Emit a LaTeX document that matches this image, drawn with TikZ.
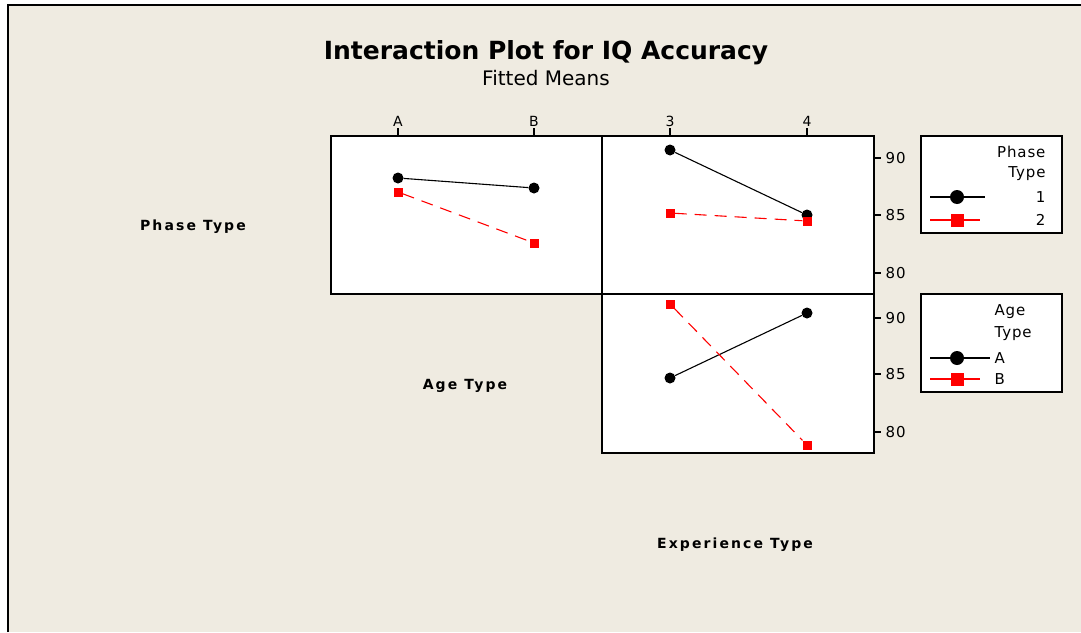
\documentclass[tikz,border=0pt]{standalone}
\usepackage{fontspec}
\setmainfont{DejaVu Sans}
\newfontfamily\axisfont[LetterSpace=15]{DejaVu Sans}
\newfontfamily\legfont[LetterSpace=6]{DejaVu Sans}
\definecolor{minibg}{RGB}{239,235,225}
\begin{document}
\begin{tikzpicture}[x=1pt,y=-1pt,font=\fontsize{14}{16}\selectfont,
    panel/.style={draw,line width=1.6pt,fill=white},
    dot/.style={circle,fill=black,inner sep=0pt,minimum size=11pt},
    sq/.style={rectangle,fill=red,inner sep=0pt,minimum size=9pt},
    blk/.style={line width=1.1pt},
    rd/.style={red,line width=1.1pt,dash pattern=on 12pt off 8pt},
    legtext/.style={font=\legfont\fontsize{15}{17}\selectfont},
    axlabel/.style={font=\axisfont\bfseries\fontsize{14}{16}\selectfont}]
  \useasboundingbox (0,0) rectangle (1081,632);
  \fill[white] (0,0) rectangle (1081,632);
  \fill[minibg] (8,5) rectangle (1081,632);
  \draw[line width=1.2pt] (8,632) -- (8,5) -- (1081,5);
  % titles
  \node[font=\bfseries\fontsize{25}{28}\selectfont] (title) at (546,53) {Interaction Plot for IQ Accuracy};
  \node[font=\fontsize{20}{22}\selectfont] (sub) at (546,78) {Fitted Means};
  % panels
  \draw[panel] (331,136) rectangle (602,294);
  \draw[panel] (602,136) rectangle (874,294);
  \draw[panel] (602,294) rectangle (874,453);
  \foreach \x/\l in {398/A,534/B,670/3,807/4}
    \draw[line width=1.2pt] (\x,136) -- (\x,128) node[above,inner sep=1pt] {\l};
  \foreach \y/\v in {158/90,215/85,273/80,318/90,374/85,432/80}
    \draw[line width=1.2pt] (874,\y) -- (881,\y) node[right,inner sep=4pt,legtext] {\v};
  % Phase Type x Age Type
  \node[dot] (pa1) at (398,178) {};
  \node[dot] (pb1) at (534,188) {};
  \node[sq] (pa2) at (398,192) {};
  \node[sq] (pb2) at (534,243) {};
  \draw[blk] (pa1) -- (pb1);
  \draw[rd] (pa2) -- (pb2);
  % Phase Type x Experience Type
  \node[dot] (pe31) at (670,150) {};
  \node[dot] (pe41) at (807,215) {};
  \node[sq] (pe32) at (670,213) {};
  \node[sq] (pe42) at (807,221) {};
  \draw[blk] (pe31) -- (pe41);
  \draw[rd] (pe32) -- (pe42);
  % Age Type x Experience Type
  \node[dot] (ae3a) at (670,378) {};
  \node[dot] (ae4a) at (807,313) {};
  \node[sq] (ae3b) at (670,304) {};
  \node[sq] (ae4b) at (807,445) {};
  \draw[blk] (ae3a) -- (ae4a);
  \draw[rd] (ae3b) -- (ae4b);
  % factor names
  \node[axlabel] (phase) at (193,227) {Phase Type};
  \node[axlabel] (age) at (465,386) {Age Type};
  \node[axlabel] (exper) at (735,545) {Experience Type};
  % legends
  \draw[line width=1.6pt,fill=white] (921,136) rectangle (1062,233);
  \node[anchor=east,legtext] (lgp) at (1049,152) {Phase};
  \node[anchor=east,legtext] (lgt) at (1049,174) {Type};
  \draw[blk] (930,197) -- (985,197);
  \node[dot,minimum size=14pt] (lg1) at (957,197) {};
  \node[anchor=east,legtext] (lgl1) at (1049,197) {1};
  \draw[red,line width=1.1pt] (930,220) -- (980,220);
  \node[sq,minimum size=13pt] (lg2) at (957,220) {};
  \node[anchor=east,legtext] (lgl2) at (1049,220) {2};
  \draw[line width=1.6pt,fill=white] (921,294) rectangle (1062,392);
  \node[anchor=west,legtext] (lga) at (991,312) {Age};
  \node[anchor=west,legtext] (lgat) at (991,334) {Type};
  \draw[blk] (930,358) -- (990,358);
  \node[dot,minimum size=14pt] (lgA) at (957,358) {};
  \node[anchor=west,legtext] (lglA) at (991,358) {A};
  \draw[red,line width=1.1pt] (930,379) -- (980,379);
  \node[sq,minimum size=13pt] (lgB) at (957,379) {};
  \node[anchor=west,legtext] (lglB) at (991,379) {B};
\end{tikzpicture}
\end{document}
